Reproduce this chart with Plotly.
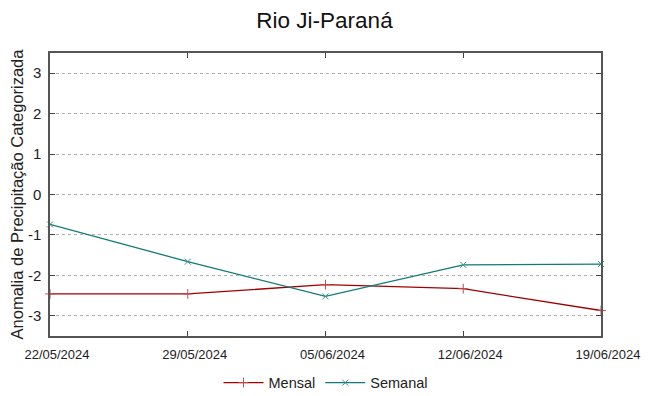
import plotly.graph_objects as go

dates = ["2024-05-22", "2024-05-29", "2024-06-05", "2024-06-12", "2024-06-19"]
tick_labels = ["22/05/2024", "29/05/2024", "05/06/2024", "12/06/2024", "19/06/2024"]
mensal = [-2.46, -2.46, -2.23, -2.33, -2.87]
semanal = [-0.74, -1.66, -2.52, -1.74, -1.72]
y_ticks = [3, 2, 1, 0, -1, -2, -3]

fig = go.Figure()
fig.add_trace(go.Scatter(
    x=dates, y=mensal, name="Mensal", mode="lines+markers",
    line=dict(color="#a00000", width=1.3),
    marker=dict(symbol="cross-thin", size=7, line=dict(color="#c05050", width=1)),
    cliponaxis=False,
))
fig.add_trace(go.Scatter(
    x=dates, y=semanal, name="Semanal", mode="lines+markers",
    line=dict(color="#117a7a", width=1.3),
    marker=dict(symbol="x-thin", size=6, line=dict(color="#3a8f8f", width=1)),
    cliponaxis=False,
))

fig.update_layout(
    width=649, height=396,
    paper_bgcolor="white", plot_bgcolor="white",
    margin=dict(l=50, r=48, t=53, b=60, autoexpand=False),
    font=dict(family="Liberation Sans, Arial, sans-serif", color="#222", size=15),
    title=dict(text="Rio Ji-Paraná", x=0.5, xanchor="center", y=0.95, yanchor="middle",
               font=dict(size=22.5, color="#111")),
    showlegend=True,
    legend=dict(orientation="h", x=0.5, xanchor="center", y=-0.165, yanchor="middle",
                font=dict(size=14.5), itemwidth=40, traceorder="normal"),
)
fig.update_xaxes(
    type="date", range=[dates[0], dates[-1]],
    tickvals=dates, ticktext=tick_labels,
    tickfont=dict(family="Liberation Sans Narrow, Liberation Sans, sans-serif", size=13, color="#222"),
    showgrid=False, zeroline=False, automargin=False,
    showline=True, linecolor="#555", linewidth=1.5, mirror="ticks",
    ticks="inside", ticklen=5, tickcolor="#444", ticklabelstandoff=6, ticklabelshift=7,
)
fig.update_yaxes(
    range=[-3.5, 3.5], tickvals=y_ticks, ticktext=[str(v) for v in y_ticks],
    tickfont=dict(size=15, color="#222"), automargin=False,
    showgrid=True, gridcolor="#b0b0b0", griddash="dot", gridwidth=1,
    zeroline=False,
    showline=True, linecolor="#555", linewidth=1.5, mirror="ticks",
    ticks="inside", ticklen=5, tickcolor="#444", ticklabelstandoff=4,
    title=dict(text="Anomalia de Precipitação Categorizada", font=dict(size=16.5, color="#222"), standoff=0),
)

fig.write_html("out.html", config={"displayModeBar": False},
               post_script="document.body.style.margin='0';")
